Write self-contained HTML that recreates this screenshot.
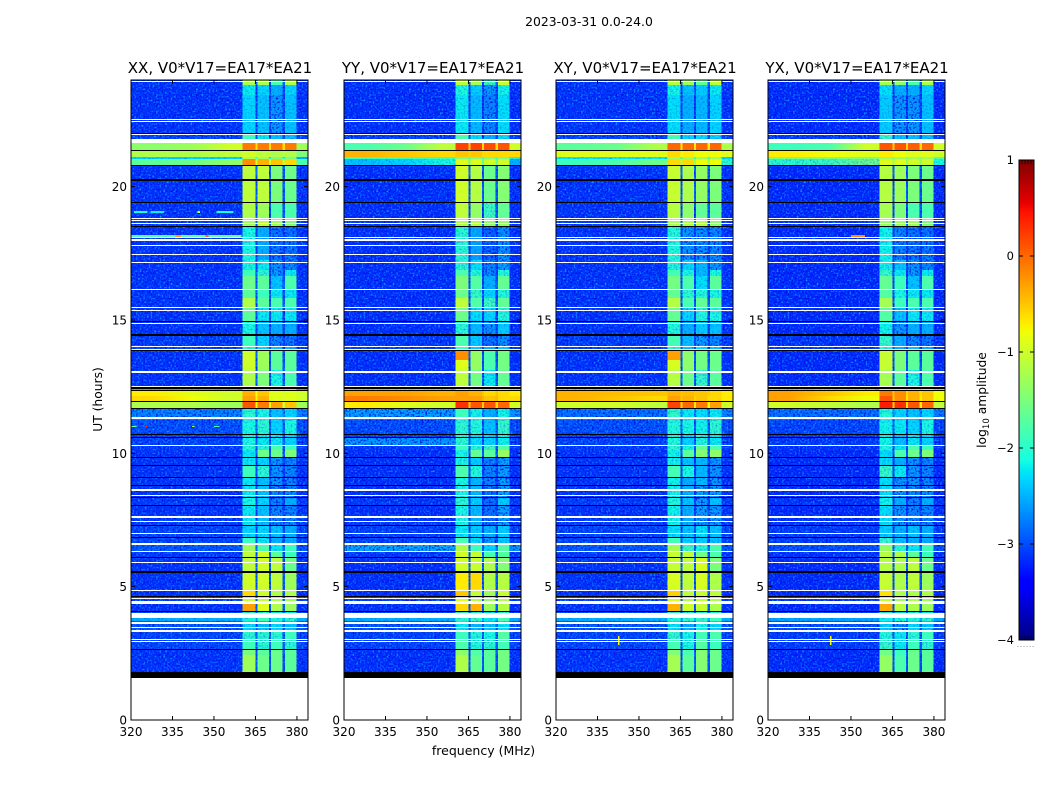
<!DOCTYPE html>
<html>
<head>
<meta charset="utf-8">
<title>2023-03-31 dynamic spectra</title>
<style>
html,body{margin:0;padding:0;background:#fff;}
svg{display:block;font-family:"DejaVu Sans","Liberation Sans",sans-serif;fill:#000;}
</style>
</head>
<body>
<svg id="chart" xmlns="http://www.w3.org/2000/svg" width="1050" height="800" viewBox="0 0 1050 800">
<defs id="chart-defs">
<filter id="speckle-light" x="0" y="0" width="1" height="1" color-interpolation-filters="sRGB">
<feTurbulence type="fractalNoise" baseFrequency="0.55" numOctaves="1" seed="3"/>
<feColorMatrix type="matrix" values="0 0 0 0 0.05  0 0 0 0 0.62  0 0 0 0 1  3.4 0 0 0 -1.68"/>
<feComposite operator="in" in2="SourceAlpha"/>
</filter>
<filter id="speckle-dark" x="0" y="0" width="1" height="1" color-interpolation-filters="sRGB">
<feTurbulence type="fractalNoise" baseFrequency="0.55" numOctaves="1" seed="11"/>
<feColorMatrix type="matrix" values="0 0 0 0 0  0 0 0 0 0.05  0 0 0 0 0.9  3.4 0 0 0 -1.6"/>
<feComposite operator="in" in2="SourceAlpha"/>
</filter>
</defs>
<text x="589" y="26" text-anchor="middle" font-size="12.4">2023-03-31 0.0-24.0</text>
<text transform="translate(102,399.5) rotate(-90)" text-anchor="middle" font-size="12.3">UT (hours)</text>
<text x="483.5" y="755" text-anchor="middle" font-size="12.5">frequency (MHz)</text>
<text transform="translate(986,400) rotate(-90)" text-anchor="middle" font-size="12.3">log<tspan font-size="8.6" dy="3">10</tspan><tspan dy="-3"> amplitude</tspan></text>
<g id="panels"></g>
<g id="colorbar"></g>
</svg>
<script>
// ---- categories and ticks ----
const panelTitles = ["XX, V0*V17=EA17*EA21", "YY, V0*V17=EA17*EA21", "XY, V0*V17=EA17*EA21", "YX, V0*V17=EA17*EA21"];
const xTicks = [320, 335, 350, 365, 380];
const yTicks = [0, 5, 10, 15, 20];
const colorTicks = [-4, -3, -2, -1, 0, 1];

// ---- frequency zones (MHz) ----
const zoneEdges = [320, 335, 350, 360.4, 365, 365.7, 369.9, 370.6, 374.8, 375.6, 379.9, 384];

// ---- quiet-sky time rows: start hour of each row, log10 amplitude per zone (XX) ----
const rowStartHours = [1.79,2.44,2.66,3.04,3.34,3.71,3.83,4.05,4.35,4.61,4.88,5.55,6.08,6.30,6.60,6.83,7.31,7.61,8.06,8.36,8.81,9.11,9.56,9.86,10.13,10.31,10.73,11.25,11.70,12.45,13.13,13.50,13.84,14.03,14.48,14.96,15.49,15.83,16.16,16.65,16.88,17.25,18.53,18.83,19.39,20.78,21.79,22.01,23.44,23.81];
const lastRowEndHour = 24;
const backgroundLevels = [-3.13,-3.13,-3.03,-3.03,-2.93,-2.5,-3.03,-3.13,-3.03,-3.13,-3.13,-3.13,-3.08,-2.93,-3.03,-3.03,-3.08,-3.13,-3.08,-3.13,-3.13,-3.13,-3.13,-3.13,-3.08,-3.03,-2.98,-2.7,-2.7,-3.13,-3.13,-3.13,-3.03,-3.08,-3.13,-3.13,-3.13,-3.13,-3.13,-3.13,-3.13,-3.13,-3.08,-3.13,-3.13,-3.13,-3.03,-3.13,-3.13,-3.13];
const band1Levels = [-1.3,-1.5,-1.9,-2.0,-2.3,-2.1,-2.1,-0.3,-1.0,-0.6,-1.0,-1.1,-1.1,-1.3,-1.9,-2.3,-2.2,-2.2,-2.1,-2.2,-2.2,-1.9,-2.2,-2.2,-2.0,-2.1,-2.1,-2.0,-2.0,-1.2,-1.0,-1.0,-2.0,-1.9,-2.1,-1.7,-1.2,-1.7,-1.6,-1.9,-2.1,-2.1,-1.3,-1.2,-1.1,-1.1,-1.9,-2.3,-2.2,-1.2];
const band2Levels = [-1.6,-1.7,-2.0,-2.0,-2.4,-1.9,-2.1,-0.9,-1.1,-1.0,-1.0,-1.0,-1.0,-1.8,-2.2,-2.3,-2.4,-2.4,-2.3,-2.4,-2.4,-2.0,-2.3,-1.6,-2.0,-2.2,-2.0,-2.1,-2.1,-1.5,-1.3,-1.3,-2.3,-2.3,-2.4,-2.2,-1.7,-1.9,-1.7,-2.0,-2.2,-2.5,-1.1,-1.3,-1.1,-1.1,-2.2,-2.4,-2.3,-1.2];
const band3Levels = [-1.6,-1.6,-1.9,-2.0,-2.3,-2.1,-2.2,-1.2,-1.2,-1.2,-1.1,-1.1,-1.7,-2.2,-2.5,-2.4,-2.7,-2.7,-2.7,-2.7,-2.6,-2.6,-2.6,-1.6,-1.8,-2.2,-2.3,-2.4,-2.4,-2.1,-1.7,-1.7,-2.4,-2.7,-2.5,-2.2,-1.8,-2.2,-2.4,-2.6,-2.6,-2.8,-1.3,-1.8,-1.5,-1.5,-2.4,-2.6,-2.5,-1.8];
const band4Levels = [-1.7,-1.7,-2.0,-1.9,-2.4,-2.0,-2.2,-1.3,-1.3,-1.2,-1.3,-1.6,-1.9,-1.9,-2.5,-2.5,-2.7,-2.7,-2.5,-2.7,-2.7,-2.7,-2.7,-1.5,-1.9,-2.3,-2.1,-2.3,-2.3,-1.8,-1.7,-1.7,-2.5,-2.8,-2.5,-2.2,-1.8,-2.2,-1.8,-2.2,-2.7,-2.8,-1.5,-1.8,-1.6,-1.6,-2.4,-2.4,-2.3,-1.2];

// ---- per-polarisation level offsets: background, band1..band4 ----
const offsetsXX = [0, 0, 0, 0, 0];
const offsetsYY = [-0.02, 0.1, -0.05, -0.1, 0.15];
const offsetsXY = [0, 0.05, -0.1, 0.15, 0.1];
const offsetsYX = [-0.05, -0.05, -0.2, 0, 0];

// ---- interference episodes: hour ranges and levels [bgA,bgB,bgC,b1,b2,b3,b4,bgR] ----
const rfiStartHours = [11.70, 11.93, 12.15, 12.34, 20.78, 21.04, 21.11, 21.34];
const rfiEndHours = [11.93, 12.15, 12.34, 12.45, 21.04, 21.11, 21.34, 21.64];
const rfiXX = [
  [-1.2,-1.2,-1.3,0.1,-0.1,-0.3,-0.5,-1.3],
  [-0.6,-0.8,-1.0,-0.3,-0.4,-0.9,-0.9,-1.0],
  [-0.7,-0.9,-1.0,-0.4,-0.5,-0.9,-0.9,-1.0],
  [-2.4,-2.4,-2.4,-1.3,-1.3,-1.5,-1.5,-2.5],
  [-1.7,-1.6,-1.4,-0.2,-0.4,-0.5,-0.6,-1.8],
  [-2.3,-2.3,-2.3,-1.2,-1.3,-1.5,-1.5,-2.5],
  [-1.2,-1.2,-1.1,-1.0,-1.1,-1.2,-1.2,-1.5],
  [-1.4,-1.3,-1.0,-0.1,-0.1,-0.1,-0.1,-1.3]
];
const rfiYY = [
  [-0.7,-0.9,-1.0,0.3,0.1,0.1,0.0,-1.0],
  [-0.1,-0.2,-0.3,-0.3,-0.3,-0.5,-0.6,-0.6],
  [-0.3,-0.3,-0.4,-0.3,-0.4,-0.6,-0.6,-0.7],
  [-2.0,-2.0,-2.0,-0.9,-0.9,-1.1,-1.1,-1.8],
  [-2.4,-2.3,-2.1,-0.9,-0.9,-1.0,-1.0,-2.5],
  [-1.9,-1.9,-1.9,-1.5,-1.5,-1.5,-1.5,-2.0],
  [-0.4,-0.5,-0.6,-0.5,-0.5,-0.6,-0.6,-0.6],
  [-1.8,-1.6,-1.1,0.2,0.2,0.15,0.1,-1.0]
];
const rfiXY = [
  [-1.0,-1.0,-1.1,0.2,0.0,-0.1,-0.3,-1.0],
  [-0.4,-0.5,-0.6,-0.3,-0.4,-0.5,-0.6,-0.7],
  [-0.4,-0.45,-0.5,-0.4,-0.45,-0.5,-0.6,-0.7],
  [-2.0,-2.0,-2.0,-0.7,-0.8,-0.9,-1.0,-1.8],
  [-1.9,-1.8,-1.6,-0.6,-0.6,-0.8,-0.8,-2.0],
  [-2.2,-2.2,-2.2,-1.3,-1.3,-1.3,-1.3,-2.3],
  [-0.9,-0.9,-0.9,-0.6,-0.7,-0.8,-0.8,-0.9],
  [-1.7,-1.6,-1.2,0.0,0.0,0.0,0.0,-1.2]
];
const rfiYX = [
  [-1.0,-1.1,-1.2,0.4,0.3,0.1,0.0,-1.1],
  [-0.3,-0.6,-0.8,0.1,-0.2,-0.4,-0.5,-0.8],
  [-0.3,-0.5,-0.7,-0.1,-0.2,-0.4,-0.5,-0.8],
  [-2.0,-2.0,-2.0,-0.8,-0.9,-1.0,-1.0,-1.9],
  [-2.0,-1.9,-1.6,-0.9,-0.9,-1.0,-1.0,-2.1],
  [-1.5,-1.5,-1.5,-1.3,-1.3,-1.3,-1.3,-1.8],
  [-0.7,-0.8,-0.9,-0.7,-0.8,-0.9,-0.9,-1.0],
  [-1.9,-1.8,-1.0,0.1,0.1,0.05,0.0,-1.0]
];

// ---- speckled background patches: panel index, hour start, hour end, MHz start, MHz end, level ----
const backgroundPatches = [
  [1,6.30,6.56,320,360.4,-2.5],[1,6.30,6.56,380,384,-2.6],[1,3.71,3.83,320,360.4,-2.5],
  [1,10.33,10.58,320,360.4,-2.6],[1,11.36,11.70,320,360.4,-2.55],[1,11.36,11.70,380,384,-2.6],
  [2,11.36,11.70,320,360.4,-2.8],[3,11.36,11.70,320,360.4,-2.8]
];

// ---- narrow local features: panel index, hour start, hour end, MHz start, MHz end, level ----
const localFeatures = [
  [0,19.03,19.07,321,326,-2.1],[0,19.03,19.07,327,332,-2.2],[0,19.03,19.07,351,357,-2.1],[0,19.03,19.07,344,345,-1.0],
  [0,18.12,18.18,320,336,-1.7],[0,18.12,18.18,336,338,-0.3],[0,18.12,18.18,338,360,-1.6],
  [0,18.12,18.18,347,348,0.0],[0,11.0,11.04,320,322,-1.6],[0,11.0,11.04,325,326,0.3],[0,11.0,11.04,342,343,-1.2],[0,11.0,11.04,350,352,-1.8],
  [1,13.50,13.84,360.4,365,-0.2],[1,4.9,5.55,360.4,365,-0.7],[1,4.9,5.55,365.7,369.9,-0.6],
  [1,4.05,4.35,360.4,365,-0.6],[1,4.05,4.35,365.7,369.9,-0.4],
  [2,13.50,13.84,360.4,365,-0.3],[2,4.05,4.35,360.4,365,-0.4],[2,2.8,3.15,342.4,342.9,-0.8],
  [3,18.12,18.18,350,355,-0.2],[3,2.8,3.15,342.4,342.9,-0.8]
];

// ---- missing (white) and flagged (black) time ranges, hours ----
const missingStart = [23.92,22.52,22.44,21.92,21.62,18.78,18.71,18.61,18.10,17.98,17.76,17.42,17.12,16.13,15.47,15.36,14.87,13.98,13.89,13.03,12.51,11.28,10.29,8.58,8.42,7.59,7.41,6.99,6.56,6.29,5.87,4.83,4.56,4.35,3.83,3.66,3.59,3.44,3.31,3.02,2.92];
const missingEnd = [23.96,22.55,22.47,21.97,21.79,18.82,18.75,18.65,18.13,18.02,17.81,17.46,17.16,16.16,15.50,15.39,14.90,14.01,13.92,13.08,12.54,11.36,10.33,8.66,8.45,7.65,7.45,7.03,6.63,6.32,5.91,4.87,4.59,4.46,4.01,3.69,3.62,3.47,3.36,3.05,2.95];
const flaggedHours = [22.01,21.34,20.79,20.25,19.39,18.51,14.96,14.93,14.45,14.42,13.85,12.45,12.37,11.93,11.68,10.70,10.58,9.84,9.56,9.11,8.81,8.36,8.06,7.31,6.84,6.08,5.55,4.62,4.06,2.66];
const flaggedBlockStart = 1.59;
const flaggedBlockEnd = 1.79;

// ---- scales and layout ----
const NS = "http://www.w3.org/2000/svg";
const xMin = 320, xMax = 384, yMin = 0, yMax = 24;
const plotTop = 80, plotBottom = 720, plotWidth = 177;
const panelLefts = [131, 344, 556, 768];
const levelMin = -4, levelMax = 1;
const dipFraction = 0.12;
const softSpeckleCeiling = -1.9;
const fullSpeckleCeiling = -2.55;
const xScale = f => (f - xMin) / (xMax - xMin) * plotWidth;
const yScale = h => plotBottom - (h - yMin) / (yMax - yMin) * (plotBottom - plotTop);

function interp(stops, t) {
  for (let i = 1; i < stops.length; i++) {
    if (t <= stops[i][0]) {
      const a = stops[i - 1], b = stops[i];
      return a[1] + (b[1] - a[1]) * (t - a[0]) / (b[0] - a[0]);
    }
  }
  return stops[stops.length - 1][1];
}
const jetR = [[0,0],[0.35,0],[0.66,1],[0.89,1],[1,0.5]];
const jetG = [[0,0],[0.125,0],[0.375,1],[0.64,1],[0.91,0],[1,0]];
const jetB = [[0,0.5],[0.11,1],[0.34,1],[0.65,0],[1,0]];
function colorScale(v) {
  const t = Math.max(0, Math.min(1, (v - levelMin) / (levelMax - levelMin)));
  return "rgb(" + Math.round(255 * interp(jetR, t)) + "," + Math.round(255 * interp(jetG, t)) + "," + Math.round(255 * interp(jetB, t)) + ")";
}

function svgEl(tag, parent) {
  const el = document.createElementNS(NS, tag);
  parent.appendChild(el);
  return el;
}
function placeRect(el, x0, x1, y0, y1) {
  const top = Math.round(y0);
  const bottom = Math.max(top + 1, Math.round(y1));
  el.setAttribute("x", x0);
  el.setAttribute("y", top);
  el.setAttribute("width", x1 - x0);
  el.setAttribute("height", bottom - top);
  el.setAttribute("shape-rendering", "crispEdges");
}

const panelsRoot = document.getElementById("panels");
const chartDefs = document.getElementById("chart-defs");
const panelOffsets = [offsetsXX, offsetsYY, offsetsXY, offsetsYX];
const panelRfi = [rfiXX, rfiYY, rfiXY, rfiYX];
const panelSlugs = ["xx", "yy", "xy", "yx"];

function dip(bg, band) {
  return bg + dipFraction * (band - bg);
}
function zoneLevels(row, off) {
  const bg = backgroundLevels[row] + off[0];
  const b1 = band1Levels[row] + off[1], b2 = band2Levels[row] + off[2];
  const b3 = band3Levels[row] + off[3], b4 = band4Levels[row] + off[4];
  return [bg, bg, bg, b1, dip(bg, b2), b2, dip(bg, b3), b3, dip(bg, b4), b4, bg];
}
function rfiBandLevels(r) {
  return [r[3], r[2] + 0.4 * (r[4] - r[2]), r[4], r[2] + 0.4 * (r[5] - r[2]), r[5], r[2] + 0.4 * (r[6] - r[2]), r[6], r[7]];
}
function rowCoveredByRfi(start, end) {
  return rfiStartHours.some((s, i) => start < rfiEndHours[i] && end > s);
}

panelTitles.forEach((title, p) => {
  const g = svgEl("g", panelsRoot);
  
  
  g.setAttribute("transform", "translate(" + panelLefts[p] + ",0)");

  const cells = svgEl("g", g);
  
  
  const maskLight = svgEl("g", g);
  maskLight.setAttribute("filter", "url(#speckle-light)");
  
  
  const maskDark = svgEl("g", g);
  maskDark.setAttribute("filter", "url(#speckle-dark)");
  
  
  const softLight = svgEl("g", g);
  softLight.setAttribute("filter", "url(#speckle-light)");
  softLight.setAttribute("opacity", "0.3");
  
  
  const softDark = svgEl("g", g);
  softDark.setAttribute("filter", "url(#speckle-dark)");
  softDark.setAttribute("opacity", "0.3");
  
  
  const features = svgEl("g", g);
  
  
  const overlay = svgEl("g", g);
  
  

  function addSpeckle(h0, h1, f0, f1, level) {
    let targets = [];
    if (level < fullSpeckleCeiling) targets = [maskLight, maskDark];
    else if (level < softSpeckleCeiling) targets = [softLight, softDark];
    targets.forEach(m => {
      const s = svgEl("rect", m);
      placeRect(s, xScale(f0), xScale(f1), yScale(h1), yScale(h0));
      s.setAttribute("fill", "#fff");
    });
  }
  function cell(h0, h1, f0, f1, level) {
    const r = svgEl("rect", cells);
    
    
    placeRect(r, xScale(f0), xScale(f1), yScale(h1), yScale(h0));
    r.setAttribute("fill", colorScale(level));
    addSpeckle(h0, h1, f0, f1, level);
  }

  rowStartHours.forEach((start, row) => {
    const end = row + 1 < rowStartHours.length ? rowStartHours[row + 1] : lastRowEndHour;
    if (rowCoveredByRfi(start, end)) return;
    const lv = zoneLevels(row, panelOffsets[p]);
    for (let z = 0; z < lv.length; z++) cell(start, end, zoneEdges[z], zoneEdges[z + 1], lv[z]);
  });
  rfiStartHours.forEach((start, i) => {
    const levels = panelRfi[p][i];
    // broadband interference: smooth blend across the three low-frequency zones
    const grad = svgEl("linearGradient", chartDefs);
    const gradId = "rfi-" + panelSlugs[p] + "-" + i;
    grad.setAttribute("id", gradId);
    grad.setAttribute("gradientUnits", "userSpaceOnUse");
    grad.setAttribute("x1", xScale(zoneEdges[0]));
    grad.setAttribute("x2", xScale(zoneEdges[3]));
    grad.setAttribute("y1", 0);
    grad.setAttribute("y2", 0);
    [0, 1, 2].forEach(z => {
      const stop = svgEl("stop", grad);
      const mid = (zoneEdges[z] + zoneEdges[z + 1]) / 2;
      stop.setAttribute("offset", (mid - zoneEdges[0]) / (zoneEdges[3] - zoneEdges[0]));
      stop.setAttribute("stop-color", colorScale(levels[z]));
    });
    const bgRect = svgEl("rect", cells);
    
    
    placeRect(bgRect, xScale(zoneEdges[0]), xScale(zoneEdges[3]), yScale(rfiEndHours[i]), yScale(start));
    bgRect.setAttribute("fill", "url(#" + gradId + ")");
    addSpeckle(start, rfiEndHours[i], zoneEdges[0], zoneEdges[3], levels[0]);
    const lv = rfiBandLevels(levels);
    for (let z = 0; z < lv.length; z++) cell(start, rfiEndHours[i], zoneEdges[z + 3], zoneEdges[z + 4], lv[z]);
  });
  backgroundPatches.filter(f => f[0] === p).forEach(f => cell(f[1], f[2], f[3], f[4], f[5]));

  localFeatures.filter(f => f[0] === p).forEach(f => {
    const r = svgEl("rect", features);
    
    
    placeRect(r, xScale(f[3]), xScale(f[4]), yScale(f[2]), yScale(f[1]));
    r.setAttribute("fill", colorScale(f[5]));
  });

  missingStart.forEach((start, i) => {
    const r = svgEl("rect", overlay);
    
    
    placeRect(r, 0, plotWidth, yScale(missingEnd[i]), yScale(start));
    r.setAttribute("fill", "#fff");
  });
  flaggedHours.forEach(h => {
    const r = svgEl("rect", overlay);
    
    
    placeRect(r, 0, plotWidth, yScale(h + 0.02), yScale(h - 0.02));
    r.setAttribute("fill", "#000");
  });
  const block = svgEl("rect", overlay);
  
  
  placeRect(block, 0, plotWidth, yScale(flaggedBlockEnd), yScale(flaggedBlockStart));
  block.setAttribute("fill", "#000");

  const frame = svgEl("rect", g);
  
  
  frame.setAttribute("x", 0);
  frame.setAttribute("y", plotTop);
  frame.setAttribute("width", plotWidth);
  frame.setAttribute("height", plotBottom - plotTop);
  frame.setAttribute("fill", "none");
  frame.setAttribute("stroke", "#000");
  frame.setAttribute("stroke-width", "1");

  xTicks.forEach(v => {
    const x = xScale(v);
    [[plotBottom, plotBottom - 4], [plotTop, plotTop + 4]].forEach(t => {
      const l = svgEl("line", g);
      
      
      l.setAttribute("x1", x); l.setAttribute("x2", x);
      l.setAttribute("y1", t[0]); l.setAttribute("y2", t[1]);
      l.setAttribute("stroke", "#000");
    });
    const tx = svgEl("text", g);
    
    
    tx.setAttribute("x", x);
    tx.setAttribute("y", 736);
    tx.setAttribute("text-anchor", "middle");
    tx.setAttribute("font-size", "12");
    tx.textContent = v;
  });
  yTicks.forEach(v => {
    const y = yScale(v);
    [[0, 4], [plotWidth, plotWidth - 4]].forEach(t => {
      const l = svgEl("line", g);
      
      
      l.setAttribute("x1", t[0]); l.setAttribute("x2", t[1]);
      l.setAttribute("y1", y); l.setAttribute("y2", y);
      l.setAttribute("stroke", "#000");
    });
    const tx = svgEl("text", g);
    
    
    tx.setAttribute("x", -4);
    tx.setAttribute("y", y + 4.5);
    tx.setAttribute("text-anchor", "end");
    tx.setAttribute("font-size", "12");
    tx.textContent = v;
  });

  const t = svgEl("text", g);
  
  
  t.setAttribute("x", plotWidth / 2 + 0.5);
  t.setAttribute("y", 73);
  t.setAttribute("text-anchor", "middle");
  t.setAttribute("font-size", "15");
  t.textContent = title;
});

// ---- colorbar ----
const cbRoot = document.getElementById("colorbar");
const cbLeft = 1019, cbWidth = 15, cbTop = 160, cbBottom = 640;
const cbY = v => cbBottom - (v - levelMin) / (levelMax - levelMin) * (cbBottom - cbTop);
for (let px = cbTop; px < cbBottom; px++) {
  const level = levelMax - (px + 0.5 - cbTop) / (cbBottom - cbTop) * (levelMax - levelMin);
  const r = svgEl("rect", cbRoot);
  
  
  r.setAttribute("x", cbLeft);
  r.setAttribute("y", px);
  r.setAttribute("width", cbWidth);
  r.setAttribute("height", 1);
  r.setAttribute("fill", colorScale(level));
}
const cbFrame = svgEl("rect", cbRoot);


cbFrame.setAttribute("x", cbLeft);
cbFrame.setAttribute("y", cbTop);
cbFrame.setAttribute("width", cbWidth);
cbFrame.setAttribute("height", cbBottom - cbTop);
cbFrame.setAttribute("fill", "none");
cbFrame.setAttribute("stroke", "#000");
colorTicks.forEach(v => {
  const y = cbY(v);
  [[cbLeft, cbLeft + 4], [cbLeft + cbWidth, cbLeft + cbWidth - 4]].forEach(t => {
    const l = svgEl("line", cbRoot);
    
    
    l.setAttribute("x1", t[0]); l.setAttribute("x2", t[1]);
    l.setAttribute("y1", y); l.setAttribute("y2", y);
    l.setAttribute("stroke", "#000");
  });
  const tx = svgEl("text", cbRoot);
  
  
  tx.setAttribute("x", cbLeft - 5);
  tx.setAttribute("y", y + 4);
  tx.setAttribute("text-anchor", "end");
  tx.setAttribute("font-size", "11.5");
  tx.textContent = v < 0 ? "\u2212" + Math.abs(v) : String(v);
});
for (let i = 1; i <= 4; i++) {
  [[cbTop, cbTop + 4], [cbBottom, cbBottom - 4]].forEach(t => {
    const l = svgEl("line", cbRoot);
    
    
    l.setAttribute("x1", cbLeft + i * cbWidth / 5); l.setAttribute("x2", cbLeft + i * cbWidth / 5);
    l.setAttribute("y1", t[0]); l.setAttribute("y2", t[1]);
    l.setAttribute("stroke", "#000");
    l.setAttribute("stroke-width", "0.7");
  });
}
for (let i = 0; i < 6; i++) {
  const d = svgEl("rect", cbRoot);
  
  
  d.setAttribute("x", 1017.5 + i * 3);
  d.setAttribute("y", 646);
  d.setAttribute("width", 1);
  d.setAttribute("height", 1);
  d.setAttribute("fill", "#999");
}
</script>
</body>
</html>
